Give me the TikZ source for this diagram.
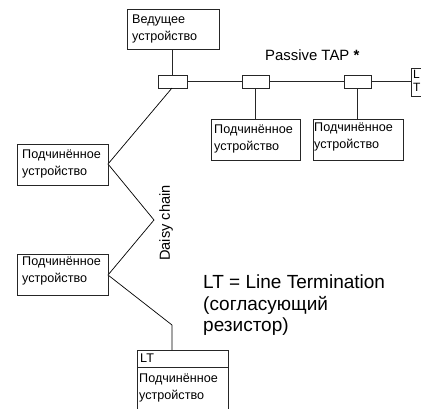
\documentclass[tikz,border=0pt]{standalone}
\usepackage{fontspec}
\setmainfont{Liberation Sans}
\begin{document}
\begin{tikzpicture}[x=1pt,y=-1pt,
  wire/.style={draw=black!85,line width=0.9pt},
  thin wire/.style={draw=black,line width=0.7pt},
  lab/.style={anchor=north west,inner sep=0pt,align=left,font=\fontsize{12.6}{16.2}\selectfont}]
\useasboundingbox (0,0) rectangle (421,408);
\path[fill=white] (0,0) rectangle (421,408);
\draw[wire] (127,9) rectangle (219,49);
\node[lab] (m) at (132,15) {Ведущее\\устройство};
\draw[wire] (158,75) rectangle (187,88);
\draw[wire] (242,75) rectangle (269,88);
\draw[wire] (344,75) rectangle (371,88);
\draw[wire] (172,49) -- (172,75);
\draw[wire] (187,81.5) -- (242,81.5) (269,81.5) -- (344,81.5) (371,81.5) -- (411,81.5);
\draw[wire] (255,88) -- (255,119) (357,88) -- (357,119);
\draw[wire] (211,119) rectangle (300,160);
\draw[wire] (313,119) rectangle (403,160);
\node[lab] at (214,125) {Подчинённое\\устройство};
\node[lab] at (314,123) {Подчинённое\\устройство};
\begin{scope}
\clip (0,0) rectangle (421,408);
\draw[wire] (411,68) rectangle (426,96);
\draw[wire] (137,350) rectangle (228,414);
\end{scope}
\node[lab,font=\fontsize{12}{13.5}\selectfont] at (413,70) {L\\T};
\node[anchor=west,inner sep=0pt,font=\fontsize{14.9}{18}\selectfont] at (265,55) {Passive TAP \textbf{*}};
\draw[thin wire] (172,88) -- (108,164) -- (154,220) -- (108,275) -- (172,325) -- (172,350);
\draw[wire] (17,144) rectangle (108,185);
\draw[wire] (17,254) rectangle (108,295);
\node[lab] at (22,150) {Подчинённое\\устройство};
\node[lab] at (22,257) {Подчинённое\\устройство};
\node[rotate=90,anchor=center,inner sep=0pt,font=\fontsize{14.6}{17}\selectfont] at (166,223) {Daisy chain};
\draw[wire] (137,367) -- (228,367);
\node[lab] at (140,354) {LT};
\node[lab] at (139,374) {Подчинённое\\устройство};
\node[anchor=north west,inner sep=0pt,align=left,font=\fontsize{19}{21.5}\selectfont] at (203,275) {LT = Line Termination\\(согласующий\\резистор)};
\end{tikzpicture}
\end{document}
